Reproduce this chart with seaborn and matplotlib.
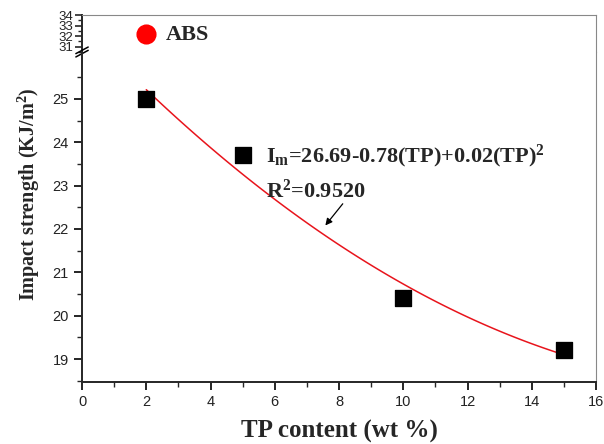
import numpy as np
import pandas as pd
import matplotlib
matplotlib.use("Agg")
import matplotlib.pyplot as plt
import seaborn as sns

# data
tp_content = [2, 5, 10, 15]
impact = [25.0, 23.7, 20.4, 19.2]
abs_x = [2]
abs_impact = [32.2]

sns.set_style("ticks")
plt.rcParams['font.family'] = ['Liberation Sans', 'DejaVu Sans']
plt.rcParams['mathtext.fontset'] = 'custom'
plt.rcParams['mathtext.bf'] = 'Liberation Serif:bold'
plt.rcParams['mathtext.rm'] = 'Liberation Serif:bold'
plt.rcParams['mathtext.it'] = 'Liberation Serif:bold'

df = pd.DataFrame({'TP': tp_content, 'Impact': impact})
df_abs = pd.DataFrame({'TP': abs_x, 'Impact': abs_impact})

fig = plt.figure(figsize=(6.04, 4.44), dpi=100)
ax_top = fig.add_axes([0.1358, 0.8829, 0.851, 0.0833])
ax = fig.add_axes([0.1358, 0.1396, 0.851, 0.7433])

# upper part: ABS reference
sns.scatterplot(data=df_abs, x='TP', y='Impact', ax=ax_top, color='#ff0000',
                marker='o', s=180, edgecolor='#ff0000', legend=False, zorder=3)
ax_top.text(2.62, 32.1, 'ABS', family='Liberation Serif', fontweight='bold',
            fontsize=16, va='center', ha='left')

# lower part: TP samples with quadratic fit
sns.regplot(data=df, x='TP', y='Impact', ax=ax, order=2, ci=None, scatter=False,
            truncate=True, line_kws={'color': '#e8141c', 'lw': 1.1})
sns.scatterplot(data=df, x='TP', y='Impact', ax=ax, color='black', marker='s',
                s=140, edgecolor='black', legend=False, zorder=3)

serif = dict(family='Liberation Serif', fontweight='bold', fontsize=16)
ax.text(5.72, 23.68, r'I$_{\mathrm{m}}$=26.69-0.78(TP)+0.02(TP)$^{\mathrm{2}}$',
        va='center', ha='left', **serif)
ax.text(5.72, 22.88, r'R$^{\mathrm{2}}$=0.9520', va='center', ha='left', **serif)
ax.annotate('', xy=(7.52, 22.03), xytext=(8.17, 22.63),
            arrowprops=dict(arrowstyle='-|>', color='black', lw=0.9,
                            mutation_scale=10))

for a in (ax, ax_top):
    a.set_xlim(0, 16)
    a.spines['left'].set_linewidth(1.4)
    a.spines['right'].set_linewidth(0.8)
    a.spines['right'].set_color('#888888')
    a.set_xlabel('')
    a.set_ylabel('')

ax_top.set_ylim(30.73, 34)
ax_top.spines['bottom'].set_visible(False)
ax_top.spines['top'].set_linewidth(0.8)
ax_top.spines['top'].set_color('#888888')
ax_top.set_xticks([])
ax_top.set_yticks([31, 32, 33, 34])
ax_top.set_yticks(np.arange(30.5, 34.01, 0.5), minor=True)
ax_top.tick_params(axis='y', which='major', length=5, width=1.2, labelsize=9.5,
                   pad=1.5, labelcolor='#222222')
ax_top.tick_params(axis='y', which='minor', length=3, width=1.0)

ax.set_ylim(18.47, 26.08)
ax.spines['top'].set_visible(False)
ax.spines['bottom'].set_linewidth(1.4)
ax.set_xticks(np.arange(0, 17, 2))
ax.set_xticks(np.arange(0, 17, 1), minor=True)
ax.set_yticks([19, 20, 21, 22, 23, 24, 25])
ax.set_yticks(np.arange(18.5, 26.0, 0.5), minor=True)
ax.tick_params(axis='both', which='major', length=6, width=1.2, labelsize=10.5,
               colors='black', labelcolor='#222222')
ax.tick_params(axis='both', which='minor', length=3.5, width=1.0)

ax.set_xlabel('TP content (wt %)', family='Liberation Serif', fontweight='bold',
              fontsize=18, labelpad=8)
ax.set_ylabel(r'Impact strength (KJ/m$^{\mathrm{2}}$)', family='Liberation Serif',
              fontweight='bold', fontsize=14.5)
ax.yaxis.set_label_coords(-0.078, 0.57)

# break marks on the left spine
kw = dict(transform=ax.transAxes, color='black', lw=1.1, clip_on=False)
ax.plot([-0.012, 0.012], [0.985, 1.005], **kw)
ax.plot([-0.012, 0.012], [0.995, 1.015], **kw)

fig.savefig('out.png', dpi=100)
